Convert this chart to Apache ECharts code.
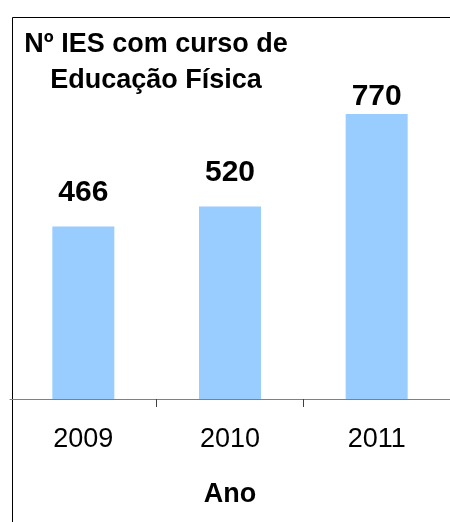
<!DOCTYPE html>
<html>
<head>
<meta charset="utf-8">
<script src="https://cdn.jsdelivr.net/npm/echarts@6/dist/echarts.min.js"></script>
<style>
  html, body { margin: 0; padding: 0; background: #fff; }
  #chart { width: 450px; height: 522px; }
</style>
</head>
<body>
<div id="chart"></div>
<script>
// values
const anos = ["2009", "2010", "2011"];
const numIES = [466, 520, 770];
const titulo = "Nº IES com curso de\nEducação Física";
const nomeEixo = "Ano";

const FONT = "'Liberation Sans', Arial, sans-serif";

const chart = echarts.init(document.getElementById("chart"), null, { renderer: "canvas" });

// the top label sits a bit closer to its bar so it stays under the frame
const dados = numIES.map((v, i) => ({
  value: v,
  label: { distance: i === numIES.length - 1 ? 2 : 19 },
}));

chart.setOption({
  animation: false,
  backgroundColor: "#ffffff",
  title: {
    text: titulo,
    left: 151,
    top: 22,
    textAlign: "center",
    textStyle: {
      fontFamily: FONT,
      fontSize: 27,
      fontWeight: "bold",
      color: "#000",
      lineHeight: 36,
      align: "center",
    },
  },
  graphic: [
    {
      type: "rect",
      left: 10,
      top: 15,
      shape: { width: 470, height: 540 },
      style: { fill: "none", stroke: "#000", lineWidth: 1 },
      silent: true,
      z: 0,
    },
  ],
  grid: { left: 10, right: -1, top: 29, height: 370 },
  xAxis: {
    type: "category",
    data: anos,
    name: nomeEixo,
    nameLocation: "middle",
    nameGap: 82,
    nameTextStyle: { fontFamily: FONT, fontSize: 27, fontWeight: "bold", color: "#000" },
    axisLine: { lineStyle: { color: "#808080", width: 1 } },
    axisTick: {
      show: true,
      length: 8,
      interval: (i) => i > 0,
      lineStyle: { color: "#404040" },
    },
    axisLabel: { fontFamily: FONT, fontSize: 27, color: "#000", margin: 27 },
  },
  yAxis: {
    type: "value",
    min: 0,
    max: 1000,
    show: false,
    splitLine: { show: false },
  },
  series: [
    {
      type: "bar",
      data: dados,
      barWidth: 62,
      itemStyle: { color: "#99ccff" },
      label: {
        show: true,
        position: "top",
        fontFamily: FONT,
        fontSize: 30,
        fontWeight: "bold",
        color: "#000",
      },
    },
  ],
});
</script>
</body>
</html>
